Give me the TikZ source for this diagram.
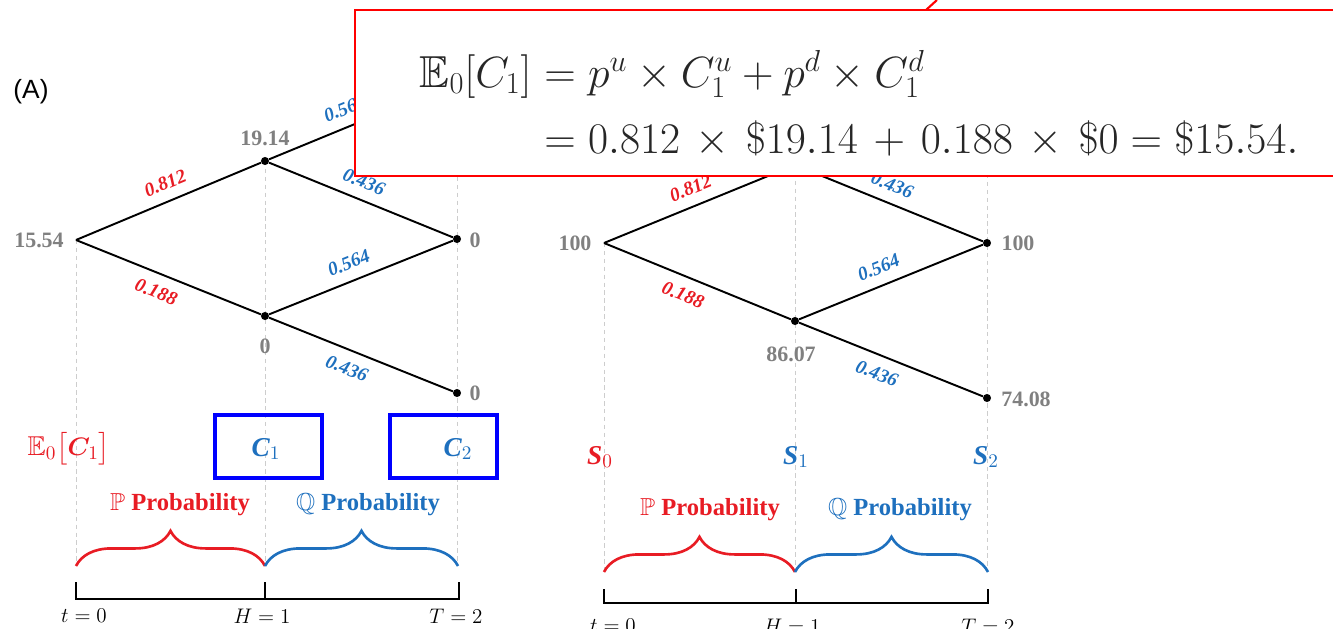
\documentclass[tikz,border=0pt]{standalone}
\usepackage{amsmath,amssymb,bm}
\usepackage{fontspec}
\setmainfont{Liberation Serif}
\newfontfamily\labelsans{Liberation Sans}
\usetikzlibrary{decorations.pathreplacing}
\definecolor{pred}{RGB}{232,28,36}
\definecolor{qblue}{RGB}{30,112,190}
\definecolor{lblgray}{RGB}{128,128,128}
\definecolor{boxblue}{RGB}{0,0,255}
\definecolor{guidegray}{RGB}{205,205,205}
\tikzset{
  tree/.style={line width=1.1pt, black},
  dotnode/.style={circle, fill=black, inner sep=0pt, minimum size=4.6pt},
  vallbl/.style={text=lblgray, inner sep=0pt, font=\fontsize{12.5}{14}\selectfont\bfseries},
  plbl/.style={text=pred, sloped, inner sep=1pt, font=\fontsize{11}{12}\selectfont\bfseries\itshape},
  qlbl/.style={text=qblue, sloped, inner sep=1pt, font=\fontsize{11}{12}\selectfont\bfseries\itshape},
  guide/.style={draw=guidegray, line width=0.5pt, dash pattern=on 2.5pt off 2pt},
  problbl/.style={inner sep=0pt, font=\fontsize{14}{16}\selectfont\bfseries},
  bracep/.style={line width=1.5pt, decorate, decoration={brace, amplitude=20pt}},
  timeline/.style={line width=1.4pt, black},
  timelbl/.style={inner sep=0pt, font=\fontsize{11.5}{13}\selectfont},
  varlbl/.style={inner sep=0pt, font=\fontsize{15.5}{17}\selectfont},
  cbox/.style={draw=boxblue, line width=1.8pt},
  formula/.style={inner sep=0pt, text=black!85, font=\fontsize{25.5}{29}\selectfont}
}
\begin{document}
\begin{tikzpicture}[x=0.02cm, y=-0.02cm]
\useasboundingbox (0,0) rectangle (1333,629);

% ---------- guides ----------
\draw[guide] (76,240) -- (76,566);
\draw[guide] (265,161) -- (265,566);
\draw[guide] (457,82) -- (457,566);
\draw[guide] (604,243) -- (604,572);
\draw[guide] (795,165) -- (795,572);
\draw[guide] (987,87) -- (987,572);

% ---------- left tree ----------
\node[coordinate] (L0) at (76,240) {};
\node[dotnode] (Lu) at (265,161) {};
\node[dotnode] (Ld) at (265,316) {};
\node[dotnode] (Luu) at (457,82) {};
\node[dotnode] (Lud) at (457,239) {};
\node[dotnode] (Ldd) at (457,393) {};

\draw[tree] (L0) -- (Lu) node[plbl, pos=0.52, above=5pt] {0.812};
\draw[tree] (L0) -- (Ld) node[plbl, pos=0.47, below=5pt] {0.188};
\draw[tree] (Lu) -- (Luu) node[qlbl, pos=0.45, above=5pt] {0.564};
\draw[tree] (Lu) -- (Lud) node[qlbl, pos=0.48, above=5pt] {0.436};
\draw[tree] (Ld) -- (Lud) node[qlbl, pos=0.47, above=5pt] {0.564};
\draw[tree] (Ld) -- (Ldd) node[qlbl, pos=0.46, below=5pt] {0.436};

\node[vallbl] (L0v) at (39,240) {15.54};
\node[vallbl] (Luv) at (265,138) {19.14};
\node[vallbl] (Ldv) at (265,346) {0};
\node[vallbl] (Ludv) at (475,240) {0};
\node[vallbl] (Lddv) at (475,393) {0};

% ---------- right tree ----------
\node[coordinate] (R0) at (604,243) {};
\node[dotnode] (Ru) at (795,165) {};
\node[dotnode] (Rd) at (795,321) {};
\node[dotnode] (Ruu) at (987,87) {};
\node[dotnode] (Rud) at (987,243) {};
\node[dotnode] (Rdd) at (987,398) {};

\draw[tree] (R0) -- (Ru) node[plbl, pos=0.5, above=5pt] {0.812};
\draw[tree] (R0) -- (Rd) node[plbl, pos=0.46, below=5pt] {0.188};
\draw[tree] (Ru) -- (Ruu);
\draw[tree] (Ru) -- (Rud) node[qlbl, pos=0.47, above=5pt] {0.436};
\draw[tree] (Rd) -- (Rud) node[qlbl, pos=0.47, above=5pt] {0.564};
\draw[tree] (Rd) -- (Rdd) node[qlbl, pos=0.46, below=5pt] {0.436};

\node[vallbl] (R0v) at (575,243) {100};
\node[vallbl] (Rdv) at (791,354) {86.07};
\node[vallbl] (Rudv) at (1018,243) {100};
\node[vallbl] (Rddv) at (1026,399) {74.08};

% ---------- variable labels ----------
\node[varlbl, text=pred] (EC) at (69,449) {$\mathbb{E}_0\bigl[\bm{C}_1\bigr]$};
\node[varlbl, text=qblue] (C1) at (266,449) {{\bfseries\itshape C}$_1$};
\node[varlbl, text=qblue] (C2) at (458,449) {{\bfseries\itshape C}$_2$};
\draw[cbox] (215,415) rectangle (322,478);
\draw[cbox] (390,415) rectangle (497,478);

\node[varlbl, text=pred] (S0) at (600,457) {{\bfseries\itshape S}$_0$};
\node[varlbl, text=qblue] (S1) at (796,457) {{\bfseries\itshape S}$_1$};
\node[varlbl, text=qblue] (S2) at (986,457) {{\bfseries\itshape S}$_2$};

% ---------- probability labels ----------
\node[problbl, text=pred] (PL) at (180,505) {$\mathbb{P}$ Probability};
\node[problbl, text=qblue] (QL) at (368,505) {$\mathbb{Q}$ Probability};
\node[problbl, text=pred] (PR) at (710,510) {$\mathbb{P}$ Probability};
\node[problbl, text=qblue] (QR) at (900,510) {$\mathbb{Q}$ Probability};

% ---------- braces ----------
\draw[bracep, pred] (76,566) -- (265,566);
\draw[bracep, qblue] (265,566) -- (458,566);
\draw[bracep, pred] (604,572) -- (795,572);
\draw[bracep, qblue] (795,572) -- (988,572);

% ---------- timelines ----------
\draw[timeline] (76,582) -- (76,599) -- (459,599) -- (459,582);
\draw[timeline] (265,582) -- (265,599);
\draw[timeline] (604,589) -- (604,603) -- (988,603) -- (988,589);
\draw[timeline] (796,589) -- (796,603);

\node[timelbl] (tl0) at (84,616) {$t=0$};
\node[timelbl] (tl1) at (262,616) {$H=1$};
\node[timelbl] (tl2) at (456,616) {$T=2$};
\node[timelbl] (tr0) at (613,626) {$t=0$};
\node[timelbl] (tr1) at (792,626) {$H=1$};
\node[timelbl] (tr2) at (988,626) {$T=2$};

% ---------- panel letter ----------
\node[inner sep=0pt, font=\labelsans\fontsize{15}{17}\selectfont] (A) at (31,92) {(A)};

% ---------- formula box ----------
\draw[red, line width=1.2pt] (926,10) -- (937,0);
\draw[red, line width=1.2pt, fill=white] (355,10) rectangle (1345,176);
\node[formula, anchor=base east] (f1l) at (532,87) {$\mathbb{E}_0[C_1]$};
\node[formula, anchor=base west] (f1r) at (532,87) {${}= p^u \times C_1^u + p^d \times C_1^d$};
\node[formula, anchor=base west] (f2) at (532,153) {$\medmuskip=6.5mu {}= 0.812 \times \$19.14 + 0.188 \times \$0 = \$15.54.$};
\end{tikzpicture}
\end{document}
